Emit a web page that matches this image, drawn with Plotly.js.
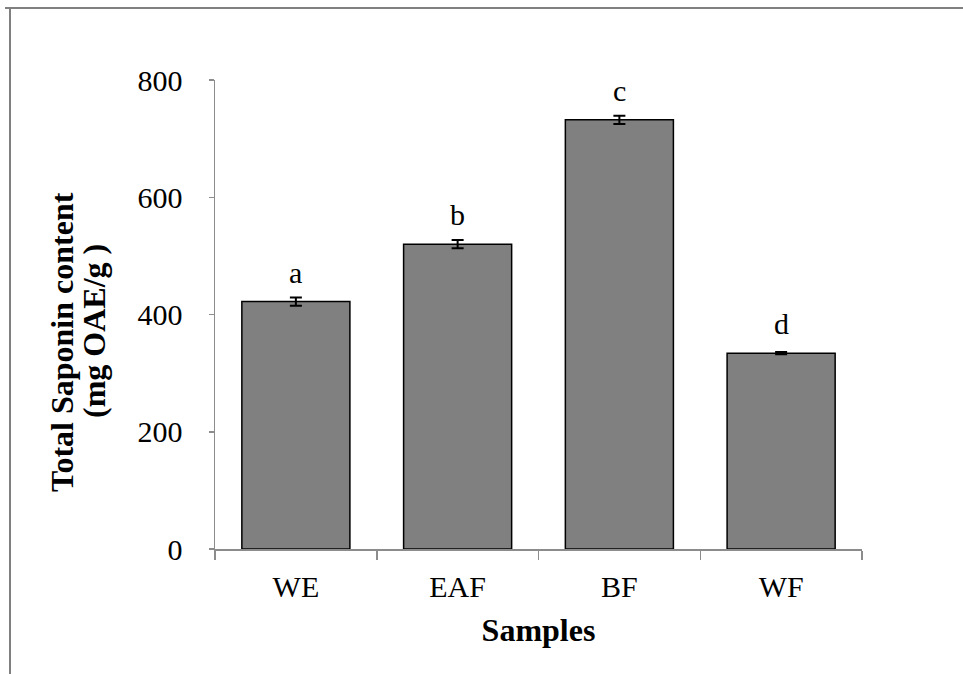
<!DOCTYPE html>
<html>
<head>
<meta charset="utf-8">
<script src="https://cdn.plot.ly/plotly-3.0.1.min.js"></script>
<style>html,body{margin:0;padding:0;background:#fff;}#chart{width:963px;height:674px;}</style>
</head>
<body>
<div id="chart"></div>
<script>
const categories = ["WE", "EAF", "BF", "WF"];
const saponinValues = [422, 520, 732, 334];
const errorValues = [7, 7, 7, 2];
const groupLetters = ["a", "b", "c", "d"];
const yTickValues = [0, 200, 400, 600, 800];
const yTitleLines = ["Total Saponin content", "(mg OAE/g )"];
const xTitle = "Samples";

const serif = "Liberation Serif, Times New Roman, serif";
const L = 215, R = 101, T = 80, B = 125, W = 963, H = 674;
const PW = W - L - R, PH = H - T - B;
const px = v => (v - L) / PW;
const py = v => (H - B - v) / PH;

const trace = {
  type: "bar",
  x: categories,
  y: saponinValues,
  marker: {color: "#808080", line: {color: "#000000", width: 1.5}},
  error_y: {type: "data", array: errorValues, visible: true, color: "#000000", thickness: 2, width: 6},
  hoverinfo: "x+y"
};

const annotations = categories.map((c, i) => ({
  x: c, y: saponinValues[i], xref: "x", yref: "y",
  text: groupLetters[i], showarrow: false,
  yanchor: "bottom", yshift: 11,
  font: {family: serif, size: 30, color: "#000"}
}));
annotations.push({
  xref: "paper", yref: "paper", x: px(62), y: py(342), xanchor: "center", yanchor: "middle",
  text: "<b>" + yTitleLines[0] + "</b>", textangle: -90, showarrow: false,
  font: {family: serif, size: 32, color: "#000"}
});
annotations.push({
  xref: "paper", yref: "paper", x: px(94), y: py(331), xanchor: "center", yanchor: "middle",
  text: "<b>" + yTitleLines[1] + "</b>", textangle: -90, showarrow: false,
  font: {family: serif, size: 32, color: "#000"}
});

const layout = {
  width: W, height: H,
  margin: {l: L, r: R, t: T, b: B, autoexpand: false},
  paper_bgcolor: "#ffffff", plot_bgcolor: "#ffffff",
  showlegend: false,
  bargap: 0.332,
  font: {family: serif, size: 30, color: "#000"},
  xaxis: {
    type: "category",
    showline: true, linecolor: "#8c8c8c", linewidth: 1.5,
    ticks: "outside", tickson: "boundaries", ticklen: 9, tickcolor: "#8c8c8c", tickwidth: 1.5,
    ticklabelstandoff: 10,
    tickfont: {family: serif, size: 30, color: "#000"},
    showgrid: false, zeroline: false,
    title: {text: "<b>" + xTitle + "</b>", font: {family: serif, size: 32, color: "#000"}, standoff: 17},
    automargin: false
  },
  yaxis: {
    range: [0, 800],
    tickvals: yTickValues,
    showline: true, linecolor: "#8c8c8c", linewidth: 1.5,
    ticks: "outside", ticklen: 5, tickcolor: "#8c8c8c", tickwidth: 1.5,
    ticklabelstandoff: 20,
    tickfont: {family: serif, size: 30, color: "#000"},
    showgrid: false, zeroline: false,
    automargin: false
  },
  annotations: annotations,
  shapes: [
    {type: "line", xref: "paper", yref: "paper", x0: px(5), x1: px(963), y0: py(8), y1: py(8), line: {color: "#808080", width: 2}},
    {type: "line", xref: "paper", yref: "paper", x0: px(10), x1: px(10), y0: py(8), y1: py(674), line: {color: "#808080", width: 2}}
  ]
};

Plotly.newPlot("chart", [trace], layout, {displayModeBar: false, staticPlot: true});
</script>
</body>
</html>
